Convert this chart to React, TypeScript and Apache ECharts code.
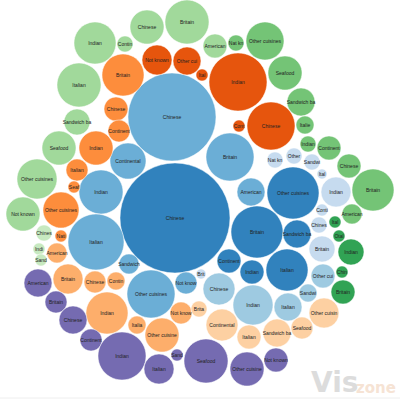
import React, { useEffect, useRef } from "react";
import * as echarts from "echarts";

// palette index -> group colour (category20c)
const palette = [
  "#3182bd", "#6baed6", "#9ecae1", "#c6dbef",
  "#e6550d", "#fd8d3c", "#fdae6b", "#fdd0a2",
  "#31a354", "#74c476", "#a1d99b", "#c7e9c0",
  "#756bb1",
];

// [label, x, y, size(radius)] per group
const blueDark: [string, number, number, number][] = [
  ["Chinese", 175, 218, 55], ["Other cuisines", 293, 193, 26], ["Britain", 257, 232, 26],
  ["Sandwich ba", 297, 234, 14], ["Continent", 229, 261, 12], ["Indian", 252, 272, 12],
  ["Italian", 287, 270, 21],
];
const blueMid: [string, number, number, number][] = [
  ["Chinese", 172, 117, 44], ["Continental", 128, 161, 18], ["Indian", 101, 192, 22],
  ["Italian", 96, 242, 28], ["Sandwich", 129, 264, 10], ["Britain", 230, 157, 24],
  ["American", 251, 192, 14], ["Other cuisines", 151, 294, 24], ["Not know", 186, 283, 11],
];
const blueLight: [string, number, number, number][] = [
  ["Chinese", 219, 289, 16], ["Indian", 253, 305, 20], ["Italian", 288, 307, 14],
  ["Sandwi", 308, 293, 9], ["Other cui", 323, 276, 12],
];
const bluePale: [string, number, number, number][] = [
  ["Nat kn", 275, 160, 8], ["Other", 294, 156, 8], ["Sandwi", 312, 162, 8],
  ["Ital", 322, 174, 5], ["Indian", 336, 192, 15], ["Conti", 322, 210, 6],
  ["Chines", 319, 225, 8], ["Britain", 322, 249, 13], ["Brit", 201, 274, 5],
];
const orangeDark: [string, number, number, number][] = [
  ["Not known", 157, 60, 15], ["Other cui", 187, 61, 14], ["Ital", 202, 75, 6],
  ["Indian", 238, 82, 29], ["Cont", 239, 126, 6], ["Chinese", 271, 126, 24],
];
const orangeMid: [string, number, number, number][] = [
  ["Britain", 123, 75, 21], ["Chinese", 116, 109, 12], ["Continent", 119, 131, 11],
  ["Indian", 96, 148, 17], ["Italian", 77, 170, 11], ["Seaf", 74, 187, 6],
  ["Other cuisines", 61, 210, 18], ["Nati", 61, 236, 6],
];
const orangeLight: [string, number, number, number][] = [
  ["American", 57, 253, 10], ["Britain", 68, 279, 15], ["Chinese", 95, 282, 11],
  ["Contin", 116, 281, 9], ["Indian", 107, 313, 21], ["Italia", 137, 325, 9],
  ["Not know", 181, 313, 11], ["Other cuisine", 162, 335, 17],
];
const orangePale: [string, number, number, number][] = [
  ["Brita", 199, 309, 8], ["Continental", 222, 325, 16], ["Italian", 249, 337, 12],
  ["Sandwich ba", 277, 333, 14], ["Seafood", 302, 328, 11], ["Other cuisin", 324, 313, 15],
];
const greenDark: [string, number, number, number][] = [
  ["Ital", 335, 222, 6], ["Otal", 339, 236, 6], ["Indian", 351, 252, 13],
  ["Chin", 342, 272, 6], ["Britain", 343, 292, 12],
];
const greenMid: [string, number, number, number][] = [
  ["Nat kn", 236, 43, 8], ["Other cuisines", 265, 41, 19], ["Seafood", 285, 73, 17],
  ["Sandwich ba", 301, 102, 14], ["Italie", 305, 125, 9], ["Indian", 308, 144, 8],
  ["Continent", 329, 148, 12], ["Chinese", 349, 166, 12], ["Britain", 373, 190, 21],
  ["American", 352, 214, 10],
];
const greenLight: [string, number, number, number][] = [
  ["Britain", 187, 22, 22], ["Chinese", 147, 27, 17], ["Contin", 125, 44, 8],
  ["Indian", 95, 43, 21], ["American", 215, 46, 12], ["Italian", 79, 85, 22],
  ["Sandwich ba", 77, 122, 13], ["Seafood", 59, 148, 17], ["Other cuisines", 37, 179, 20],
  ["Not known", 23, 214, 17],
];
const greenPale: [string, number, number, number][] = [
  ["Chines", 44, 233, 8], ["Indi", 39, 249, 6], ["Sand", 41, 260, 6],
];
const purple: [string, number, number, number][] = [
  ["American", 38, 283, 14], ["Britain", 56, 302, 11], ["Chinese", 73, 320, 14],
  ["Continent", 91, 340, 11], ["Indian", 122, 356, 24], ["Sand", 177, 355, 6],
  ["Italian", 159, 369, 15], ["Seafood", 206, 361, 22], ["Other cuisine", 247, 369, 17],
  ["Not known", 276, 360, 12],
];

const groups = [
  blueDark, blueMid, blueLight, bluePale,
  orangeDark, orangeMid, orangeLight, orangePale,
  greenDark, greenMid, greenLight, greenPale,
  purple,
];

export default function App() {
  const ref = useRef<HTMLDivElement>(null);
  useEffect(() => {
    if (!ref.current) return;
    const chart = echarts.init(ref.current, null, { renderer: "svg" });
    const series = groups.map((g, gi) => ({
      type: "scatter",
      silent: true,
      data: g.map((d) => ({ name: d[0], value: [d[1], d[2], d[3]] })),
      symbolSize: (v: number[]) => v[2] * 2,
      itemStyle: { color: palette[gi], opacity: 1, borderColor: "#fff", borderWidth: 0.5 },
      label: {
        show: true,
        position: "inside",
        formatter: "{b}",
        fontSize: 5,
        fontFamily: "Liberation Sans, Arial, sans-serif",
        color: "#222",
      },
      emphasis: { disabled: true },
    }));
    chart.setOption({
      animation: false,
      backgroundColor: "#fff",
      grid: { left: 0, right: 0, top: 0, bottom: 0 },
      xAxis: { type: "value", min: 0, max: 400, show: false },
      yAxis: { type: "value", min: 0, max: 400, inverse: true, show: false },
      series,
      graphic: [
        { type: "line", shape: { x1: 0, y1: 398, x2: 400, y2: 398 }, style: { stroke: "#eeeeee", lineWidth: 1 } },
        {
          type: "text", left: 311, top: 368,
          style: { text: "Vis", fontSize: 28, fontWeight: "bold", fill: "#dcdcdc", fontFamily: "DejaVu Sans, sans-serif" },
        },
        {
          type: "text", left: 356, top: 380,
          style: { text: "zone", fontSize: 15, fontWeight: "bold", fill: "#f6e3d4", fontFamily: "DejaVu Sans, sans-serif" },
        },
      ],
    });
    return () => chart.dispose();
  }, []);
  return <div ref={ref} style={{ position: "fixed", left: 0, top: 0, width: 400, height: 400 }} />;
}
